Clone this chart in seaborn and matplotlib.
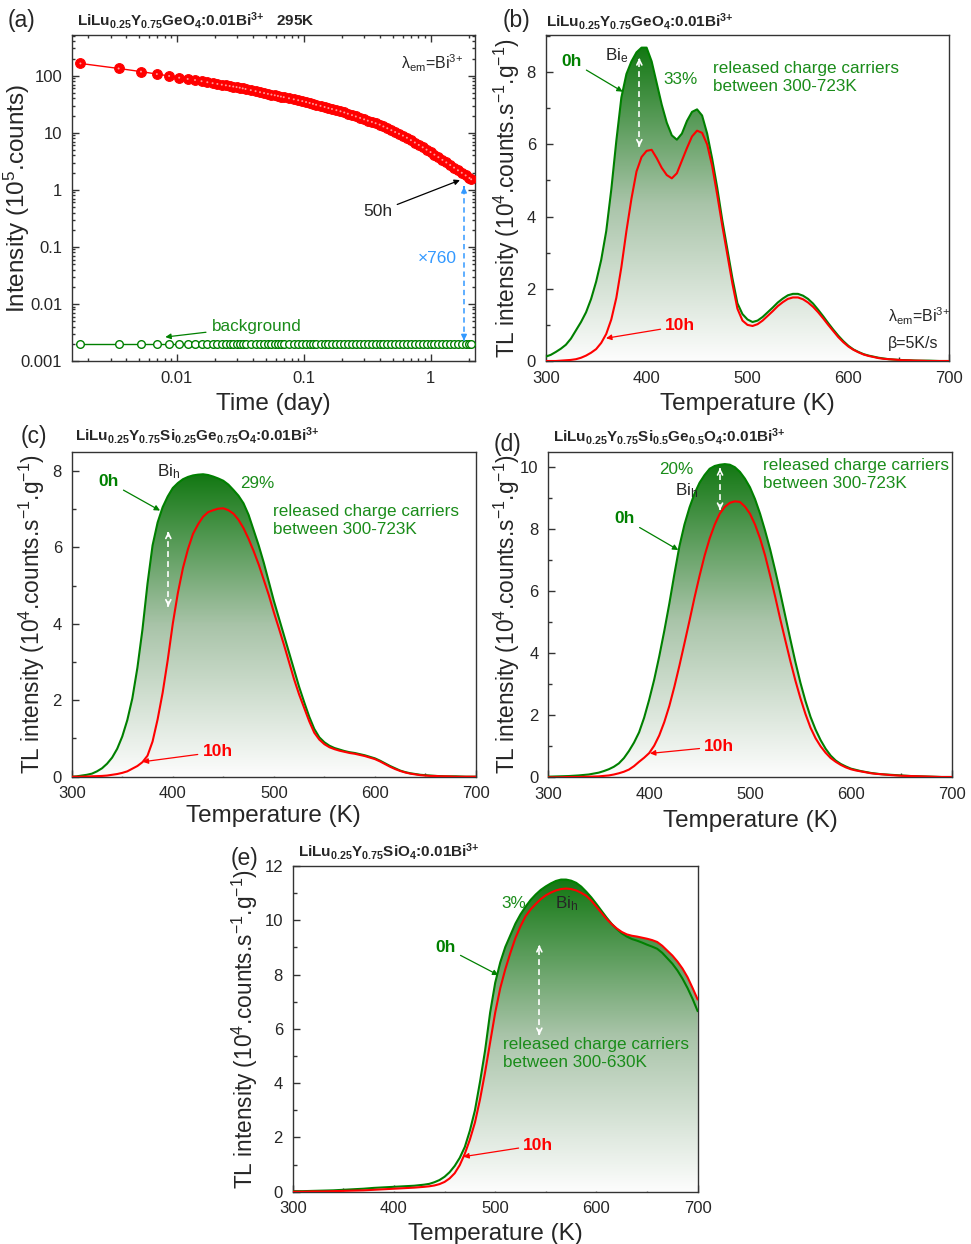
import numpy as np
import seaborn as sns
import matplotlib
matplotlib.use("Agg")
import matplotlib.pyplot as plt
from matplotlib.colors import LinearSegmentedColormap
from matplotlib.ticker import MultipleLocator, NullFormatter

sns.set_style("ticks")
plt.rcParams["font.family"] = ["Liberation Sans", "DejaVu Sans"]
plt.rcParams["mathtext.fontset"] = "custom"
plt.rcParams["mathtext.rm"] = "Liberation Sans"
plt.rcParams["mathtext.it"] = "Liberation Sans:italic"
plt.rcParams["mathtext.bf"] = "Liberation Sans:bold"
plt.rcParams["mathtext.default"] = "regular"

# ---- (a) afterglow decay at 295K (time in minutes, intensity in 10^5 counts) ----
decay_minutes = [2.5, 5, 7.5, 10, 12.5, 15, 17.5, 20, 22.5, 25, 27.5, 30, 32.5, 35, 37.5, 40,
                 42.5, 45, 47.5, 50, 55, 60, 65, 70, 75, 80, 85, 90, 95, 100, 110, 120, 130,
                 140, 150, 160, 170, 180, 195, 210, 225, 240, 260, 280, 300, 320, 345, 370,
                 400, 430, 460, 495, 530, 570, 610, 655, 705, 755, 810, 870, 935, 1005, 1080,
                 1160, 1245, 1335, 1435, 1540, 1655, 1780, 1910, 2050, 2200, 2360, 2530, 2715,
                 2910, 3000]
decay_counts = [164, 134, 118, 107, 99, 92.3, 87.7, 84, 80.2, 76.9, 74.1, 71.8, 69.7, 67.8, 66.1, 64.6,
                63.2, 61.7, 60.0, 58.5, 55.9, 53.6, 51.5, 49.7, 48.1, 46.7, 45.4, 44.2, 43.1, 42.1, 40.3, 38.6, 37.2,
                35.9, 34.6, 33.3, 32.1, 31.0, 29.6, 28.3, 27.1, 26.1, 24.9, 23.8, 22.7, 21.6, 20.4, 19.3,
                18.2, 17.2, 16.3, 15.5, 14.7, 13.9, 12.9, 12.0, 11.1, 10.3, 9.6, 8.91, 8.19, 7.43, 6.75,
                6.12, 5.56, 5.06, 4.59, 4.14, 3.73, 3.35, 3.02, 2.72, 2.45, 2.20, 1.99, 1.79,
                1.61, 1.53]
background_level = 0.002

# ---- TL glow curves (10^4 counts/s/g), read every 5 K ----
temperature_K = [300, 305, 310, 315, 320, 325, 330, 335, 340, 345, 350, 355, 360, 365, 370, 375,
                 380, 385, 390, 395, 400, 405, 410, 415, 420, 425, 430, 435, 440, 445, 450, 455,
                 460, 465, 470, 475, 480, 485, 490, 495, 500, 505, 510, 515, 520, 525, 530, 535,
                 540, 545, 550, 555, 560, 565, 570, 575, 580, 585, 590, 595, 600, 605, 610, 615,
                 620, 625, 630, 635, 640, 645, 650, 655, 660, 665, 670, 675, 680, 685, 690, 695, 700]

ge_0h = [0.12, 0.17, 0.25, 0.34, 0.45, 0.62, 0.85, 1.08, 1.35, 1.72, 2.2, 2.8, 3.6, 4.75, 6.1, 7.3,
         7.95, 8.3, 8.55, 8.68, 8.68, 8.3, 7.7, 7.1, 6.6, 6.25, 6.13, 6.3, 6.65, 6.9, 6.97, 6.8,
         6.3, 5.6, 4.8, 3.9, 3.1, 2.3, 1.6, 1.3, 1.15, 1.08, 1.12, 1.22, 1.35, 1.48, 1.62, 1.73,
         1.82, 1.86, 1.86, 1.81, 1.72, 1.59, 1.42, 1.24, 1.05, 0.87, 0.70, 0.55, 0.42, 0.32, 0.25, 0.19,
         0.15, 0.12, 0.09, 0.07, 0.05, 0.04, 0.03, 0.025, 0.02, 0.015, 0.01, 0.01, 0.01, 0.005, 0.0, 0.0, 0.0]
ge_10h = [0.0, 0.0, 0.0, 0.01, 0.02, 0.03, 0.05, 0.09, 0.15, 0.23, 0.33, 0.5, 0.75, 1.15, 1.75, 2.6,
          3.6, 4.5, 5.25, 5.65, 5.82, 5.85, 5.62, 5.35, 5.15, 5.06, 5.2, 5.55, 5.9, 6.22, 6.38, 6.32,
          6.0, 5.4, 4.6, 3.75, 2.95, 2.15, 1.45, 1.12, 1.0, 0.97, 1.02, 1.12, 1.25, 1.38, 1.52, 1.63,
          1.72, 1.76, 1.76, 1.71, 1.62, 1.5, 1.35, 1.18, 1.0, 0.83, 0.66, 0.52, 0.4, 0.31, 0.24, 0.18,
          0.14, 0.11, 0.08, 0.06, 0.05, 0.04, 0.03, 0.02, 0.02, 0.01, 0.01, 0.005, 0.0, 0.0, 0.0, 0.0, 0.0]

si25_0h = [0.0, 0.01, 0.03, 0.05, 0.08, 0.14, 0.22, 0.34, 0.5, 0.73, 1.05, 1.48, 2.05, 2.85, 3.85, 5.05,
           6.05, 6.65, 7.05, 7.33, 7.55, 7.68, 7.78, 7.84, 7.88, 7.9, 7.91, 7.89, 7.85, 7.8, 7.74, 7.64,
           7.5, 7.35, 7.15, 6.85, 6.45, 6.05, 5.6, 5.1, 4.6, 4.15, 3.7, 3.25, 2.8, 2.35, 1.95, 1.57,
           1.25, 1.03, 0.9, 0.81, 0.75, 0.71, 0.67, 0.64, 0.62, 0.59, 0.56, 0.52, 0.48, 0.42, 0.35, 0.28,
           0.22, 0.16, 0.12, 0.09, 0.07, 0.05, 0.04, 0.03, 0.02, 0.015, 0.01, 0.01, 0.01, 0.005, 0.0, 0.0, 0.0]
si25_10h = [0.0, 0.0, 0.0, 0.005, 0.01, 0.015, 0.02, 0.03, 0.05, 0.07, 0.1, 0.14, 0.21, 0.28, 0.38, 0.55,
            0.92, 1.5, 2.2, 3.05, 4.0, 4.8, 5.45, 5.95, 6.35, 6.6, 6.8, 6.92, 6.97, 7.01, 7.02, 6.97,
            6.88, 6.72, 6.5, 6.22, 5.9, 5.55, 5.15, 4.75, 4.3, 3.88, 3.45, 3.0, 2.55, 2.15, 1.8, 1.45,
            1.15, 0.97, 0.85, 0.77, 0.72, 0.68, 0.65, 0.62, 0.6, 0.57, 0.54, 0.5, 0.46, 0.4, 0.33, 0.26,
            0.2, 0.15, 0.11, 0.08, 0.06, 0.04, 0.03, 0.02, 0.02, 0.01, 0.01, 0.005, 0.0, 0.0, 0.0, 0.0, 0.0]

si50_0h = [0.02, 0.025, 0.03, 0.035, 0.04, 0.05, 0.06, 0.075, 0.09, 0.12, 0.15, 0.2, 0.26, 0.34, 0.45, 0.62,
           0.85, 1.12, 1.45, 1.92, 2.5, 3.15, 3.9, 4.72, 5.6, 6.55, 7.45, 8.15, 8.7, 9.15, 9.5, 9.75,
           9.95, 10.04, 10.08, 10.1, 10.08, 10.0, 9.85, 9.63, 9.35, 8.97, 8.5, 7.95, 7.35, 6.67, 5.95, 5.2,
           4.45, 3.72, 3.05, 2.46, 1.95, 1.54, 1.2, 0.92, 0.7, 0.54, 0.43, 0.35, 0.28, 0.24, 0.2, 0.17,
           0.14, 0.12, 0.1, 0.09, 0.08, 0.07, 0.06, 0.05, 0.04, 0.035, 0.03, 0.025, 0.02, 0.015, 0.01, 0.01, 0.01]
si50_10h = [0.0, 0.0, 0.0, 0.005, 0.01, 0.01, 0.01, 0.015, 0.02, 0.025, 0.03, 0.045, 0.06, 0.09, 0.13, 0.18,
            0.25, 0.36, 0.5, 0.63, 0.78, 1.02, 1.35, 1.78, 2.3, 2.92, 3.6, 4.32, 5.05, 5.8, 6.5, 7.15,
            7.7, 8.15, 8.5, 8.72, 8.85, 8.9, 8.88, 8.73, 8.5, 8.15, 7.7, 7.15, 6.5, 5.82, 5.1, 4.42,
            3.75, 3.12, 2.55, 2.04, 1.6, 1.26, 1.0, 0.79, 0.62, 0.5, 0.4, 0.32, 0.26, 0.22, 0.19, 0.16,
            0.13, 0.11, 0.1, 0.085, 0.07, 0.06, 0.05, 0.045, 0.04, 0.035, 0.03, 0.025, 0.02, 0.015, 0.01, 0.01, 0.01]

si_0h = [0.02, 0.02, 0.02, 0.025, 0.03, 0.035, 0.04, 0.045, 0.05, 0.06, 0.07, 0.08, 0.09, 0.1, 0.11, 0.125,
         0.14, 0.15, 0.16, 0.17, 0.18, 0.19, 0.2, 0.21, 0.22, 0.24, 0.26, 0.29, 0.35, 0.43, 0.55, 0.72,
         0.95, 1.25, 1.65, 2.25, 3.0, 4.05, 5.2, 6.6, 7.7, 8.45, 9.02, 9.45, 9.88, 10.22, 10.5, 10.75,
         10.95, 11.12, 11.25, 11.36, 11.45, 11.5, 11.5, 11.46, 11.38, 11.24, 11.05, 10.84, 10.6, 10.35, 10.1, 9.87,
         9.68, 9.52, 9.4, 9.31, 9.25, 9.18, 9.1, 9.03, 8.95, 8.8, 8.6, 8.4, 8.15, 7.85, 7.5, 7.1, 6.65]
si_10h = [0.0, 0.0, 0.0, 0.005, 0.01, 0.01, 0.01, 0.015, 0.02, 0.025, 0.03, 0.035, 0.04, 0.045, 0.05, 0.06,
          0.07, 0.08, 0.09, 0.1, 0.11, 0.12, 0.13, 0.14, 0.15, 0.165, 0.18, 0.2, 0.23, 0.28, 0.36, 0.49,
          0.68, 0.98, 1.4, 1.92, 2.55, 3.4, 4.4, 5.5, 6.6, 7.5, 8.2, 8.8, 9.35, 9.78, 10.15, 10.4,
          10.6, 10.78, 10.92, 11.02, 11.1, 11.15, 11.17, 11.15, 11.1, 11.01, 10.9, 10.72, 10.5, 10.27, 10.05, 9.86,
          9.7, 9.57, 9.48, 9.43, 9.4, 9.36, 9.32, 9.27, 9.2, 9.06, 8.88, 8.7, 8.48, 8.22, 7.9, 7.5, 7.08]

LINE_GREEN = "#008000"
TEXT_GREEN = "#1a8c1a"
fill_cmap = LinearSegmentedColormap.from_list("tlfill", ["#fdfdfd", "#a9c4a9", "#137813"])

W, H = 971, 1244
fig = plt.figure(figsize=(W / 100, H / 100), dpi=100)


def px_rect(left, top, right, bottom):
    return [left / W, 1 - bottom / H, (right - left) / W, (bottom - top) / H]


def fig_text(x, y, s, **kw):
    fig.text(x / W, 1 - y / H, s, **kw)


def style_spines(ax):
    for sp in ax.spines.values():
        sp.set_linewidth(1.0)
        sp.set_color("#333333")


def dashed_double_arrow(ax, x, y0, y1, color, eps, style, lw=1.2, ms=9):
    ax.plot([x, x], [y0, y1], ls=(0, (3.5, 2.5)), color=color, lw=lw, zorder=6)
    for end, tail in ((y0, y0 + eps), (y1, y1 - eps)):
        ax.annotate("", xy=(x, end), xytext=(x, tail), zorder=6,
                    arrowprops=dict(arrowstyle=style, color=color, lw=lw,
                                    shrinkA=0, shrinkB=0, mutation_scale=ms))


def label_arrow(ax, text, xytext, xy, color, size=12.5):
    ax.annotate(text, xy=xy, xytext=xytext, color=color, fontsize=size, fontweight="bold",
                ha="center", va="center", zorder=7,
                arrowprops=dict(arrowstyle="-|>", color=color, lw=0.9, mutation_scale=8,
                                shrinkA=1, shrinkB=0))


def tl_panel(ax, green, red, ymax, xlab_y, ylab_x):
    x = np.array(temperature_K, dtype=float)
    g = np.array(green)
    r = np.array(red)
    top = max(g.max(), r.max())
    poly = ax.fill_between(x, 0, np.maximum(g, r), facecolor="none", edgecolor="none")
    grad = np.linspace(0, 1, 256).reshape(-1, 1)
    im = ax.imshow(grad, extent=(300, 700, 0, top), origin="lower", aspect="auto",
                   cmap=fill_cmap, zorder=1)
    im.set_clip_path(poly.get_paths()[0], transform=ax.transData)
    sns.lineplot(x=x, y=g, ax=ax, color=LINE_GREEN, lw=1.5, zorder=3, errorbar=None)
    sns.lineplot(x=x, y=r, ax=ax, color="red", lw=1.5, zorder=4, errorbar=None)
    ax.set_xlim(300, 700)
    ax.set_ylim(0, ymax)
    ax.xaxis.set_major_locator(MultipleLocator(100))
    ax.xaxis.set_minor_locator(MultipleLocator(50))
    ax.yaxis.set_major_locator(MultipleLocator(2))
    ax.yaxis.set_minor_locator(MultipleLocator(1))
    ax.tick_params(which="both", direction="in", top=False, right=False, width=1, color="#333333")
    ax.tick_params(which="major", length=5, labelsize=12, pad=7)
    ax.tick_params(which="minor", length=3)
    ax.set_xlabel("Temperature (K)", fontsize=17.5)
    ax.set_ylabel(r"TL intensity (10$^4$.counts.s$^{-1}$.g$^{-1}$)", fontsize=16.3)
    ax.xaxis.set_label_coords(0.5, xlab_y)
    ax.yaxis.set_label_coords(ylab_x, 0.5)
    style_spines(ax)


# ---------------- (a) ----------------
ax = fig.add_axes(px_rect(72, 35, 475, 361))
ax.set_xscale("log")
ax.set_yscale("log")
days = np.array(decay_minutes) / 1440.0
background = [background_level] * len(decay_minutes)
sns.lineplot(x=days, y=background, ax=ax, color=LINE_GREEN, lw=1, marker="o", markersize=5.5,
             markerfacecolor="white", markeredgecolor=LINE_GREEN, markeredgewidth=1.0,
             errorbar=None, zorder=3)
sns.lineplot(x=days, y=decay_counts, ax=ax, color="red", lw=1, marker="o", markersize=7,
             markerfacecolor="red", markeredgecolor="red", markeredgewidth=0.8,
             errorbar=None, zorder=4)
sns.scatterplot(x=days, y=decay_counts, ax=ax, s=2, color="#ff9a9a", edgecolor="none", zorder=5)
ax.set_xlim(0.00149, 2.234)
ax.set_ylim(0.001, 517)
ax.set_xticks([0.01, 0.1, 1], ["0.01", "0.1", "1"])
ax.set_yticks([0.001, 0.01, 0.1, 1, 10, 100], ["0.001", "0.01", "0.1", "1", "10", "100"])
ax.xaxis.set_minor_formatter(NullFormatter())
ax.yaxis.set_minor_formatter(NullFormatter())
ax.tick_params(which="both", direction="in", top=True, right=True, width=1, color="#333333")
ax.tick_params(which="major", length=5, labelsize=12, pad=7)
ax.tick_params(which="minor", length=2.5)
ax.set_xlabel("Time (day)", fontsize=17.5)
ax.set_ylabel(r"Intensity (10$^5$.counts)", fontsize=17.5)
ax.xaxis.set_label_coords(0.5, -0.097)
ax.yaxis.set_label_coords(-0.1, 0.5)
style_spines(ax)
ax.text(0.893, 0.914, r"λ$_{em}$=Bi$^{3{+}}$", transform=ax.transAxes, fontsize=11.5,
        ha="center", va="center")
ax.annotate("50h", xy=(1.70, 1.48), xytext=(0.385, 0.41), fontsize=12.5, ha="center", va="center",
            arrowprops=dict(arrowstyle="-|>", color="black", lw=0.9, mutation_scale=8,
                            shrinkA=1, shrinkB=0))
dashed_double_arrow(ax, 1.83, 0.00228, 1.13, "#3399ff", eps=0.0004, style="-|>", lw=1.1, ms=8)
ax.text(1.62, 0.0623, "×760", color="#3399ff", fontsize=12.5, ha="right", va="center")
ax.annotate("background", xy=(0.0081, 0.00263), xytext=(0.0189, 0.00406), color=TEXT_GREEN,
            fontsize=12.3, ha="left", va="center",
            arrowprops=dict(arrowstyle="-|>", color=LINE_GREEN, lw=0.9, mutation_scale=8,
                            shrinkA=2, shrinkB=0))

# ---------------- (b) ----------------
ax = fig.add_axes(px_rect(545.7, 35, 949.3, 361))
tl_panel(ax, ge_0h, ge_10h, 9.03, -0.097, -0.059)
label_arrow(ax, "0h", (325.8, 8.30), (376.3, 7.46), LINE_GREEN)
ax.text(359, 8.45, r"Bi$_e$", fontsize=12.3, ha="left", va="center")
dashed_double_arrow(ax, 392.8, 5.94, 8.39, "white", eps=0.05, style="->", lw=1.2, ms=9)
ax.text(434, 7.81, "33%", color=TEXT_GREEN, fontsize=12.3, ha="center", va="center")
ax.text(465.5, 7.84, "released charge carriers\nbetween 300-723K", color=TEXT_GREEN,
        fontsize=12.3, ha="left", va="center", linespacing=1.25)
label_arrow(ax, "10h", (433.4, 0.97), (359.8, 0.63), "red")
ax.text(639, 1.23, r"λ$_{em}$=Bi$^{3{+}}$", fontsize=11.5, ha="left", va="center")
ax.text(639, 0.49, "β=5K/s", fontsize=11.5, ha="left", va="center")

# ---------------- (c) ----------------
ax = fig.add_axes(px_rect(71.7, 451.7, 476, 776.7))
tl_panel(ax, si25_0h, si25_10h, 8.5, -0.088, -0.062)
label_arrow(ax, "0h", (336.7, 7.71), (387.4, 6.96), LINE_GREEN)
ax.text(384, 7.98, r"Bi$_h$", fontsize=12.3, ha="left", va="center")
dashed_double_arrow(ax, 395.6, 4.45, 6.41, "white", eps=0.05, style="->", lw=1.2, ms=9)
ax.text(483.6, 7.67, "29%", color=TEXT_GREEN, fontsize=12.3, ha="center", va="center")
ax.text(499.4, 6.69, "released charge carriers\nbetween 300-723K", color=TEXT_GREEN,
        fontsize=12.3, ha="left", va="center", linespacing=1.25)
label_arrow(ax, "10h", (444.2, 0.65), (370.2, 0.39), "red")

# ---------------- (d) ----------------
ax = fig.add_axes(px_rect(548.3, 451.7, 951.7, 777.3))
tl_panel(ax, si50_0h, si50_10h, 10.5, -0.1, -0.064)
ax.text(427.3, 9.91, "20%", color=TEXT_GREEN, fontsize=12.3, ha="center", va="center")
ax.text(425.6, 9.25, r"Bi$_h$", fontsize=12.3, ha="left", va="center")
label_arrow(ax, "0h", (376, 8.33), (428.9, 7.33), LINE_GREEN)
dashed_double_arrow(ax, 470.3, 8.62, 9.97, "white", eps=0.06, style="->", lw=1.2, ms=9)
ax.text(513.2, 9.76, "released charge carriers\nbetween 300-723K", color=TEXT_GREEN,
        fontsize=12.3, ha="left", va="center", linespacing=1.25)
label_arrow(ax, "10h", (469.5, 0.99), (400.8, 0.77), "red")

# ---------------- (e) ----------------
ax = fig.add_axes(px_rect(292.7, 866, 697.7, 1191.7))
tl_panel(ax, si_0h, si_10h, 12, -0.095, -0.081)
ax.text(517.9, 10.63, "3%", color=TEXT_GREEN, fontsize=12.3, ha="center", va="center")
ax.text(559.1, 10.6, r"Bi$_h$", fontsize=12.3, ha="left", va="center")
label_arrow(ax, "0h", (451.2, 8.99), (503.1, 7.98), LINE_GREEN)
dashed_double_arrow(ax, 543.6, 5.77, 9.09, "white", eps=0.07, style="->", lw=1.2, ms=9)
ax.text(507.4, 5.09, "released charge carriers\nbetween 300-630K", color=TEXT_GREEN,
        fontsize=12.3, ha="left", va="center", linespacing=1.25)
label_arrow(ax, "10h", (542.6, 1.72), (468.5, 1.29), "red")

# ---------------- titles and panel letters ----------------
ge_title = r"LiLu$_{\mathbf{0.25}}$Y$_{\mathbf{0.75}}$GeO$_{\mathbf{4}}$:0.01Bi$^{\mathbf{3{+}}}$"
titles = [
    (77, 26, ge_title + "   295K"),
    (546, 26.7, ge_title),
    (75, 440.7, r"LiLu$_{\mathbf{0.25}}$Y$_{\mathbf{0.75}}$Si$_{\mathbf{0.25}}$Ge$_{\mathbf{0.75}}$O$_{\mathbf{4}}$:0.01Bi$^{\mathbf{3{+}}}$"),
    (553, 441.7, r"LiLu$_{\mathbf{0.25}}$Y$_{\mathbf{0.75}}$Si$_{\mathbf{0.5}}$Ge$_{\mathbf{0.5}}$O$_{\mathbf{4}}$:0.01Bi$^{\mathbf{3{+}}}$"),
    (298, 856.7, r"LiLu$_{\mathbf{0.25}}$Y$_{\mathbf{0.75}}$SiO$_{\mathbf{4}}$:0.01Bi$^{\mathbf{3{+}}}$"),
]
for x, y, s in titles:
    fig_text(x, y, s, fontsize=11, fontweight="bold", ha="left", va="baseline")

letters = [(8, 26.7, "(a)"), (503, 26.7, "(b)"), (20.7, 443, "(c)"), (494, 451, "(d)"), (231, 864.5, "(e)")]
for x, y, s in letters:
    fig_text(x, y, s, fontsize=16.5, ha="left", va="baseline")

fig.savefig("out.png", dpi=100)
